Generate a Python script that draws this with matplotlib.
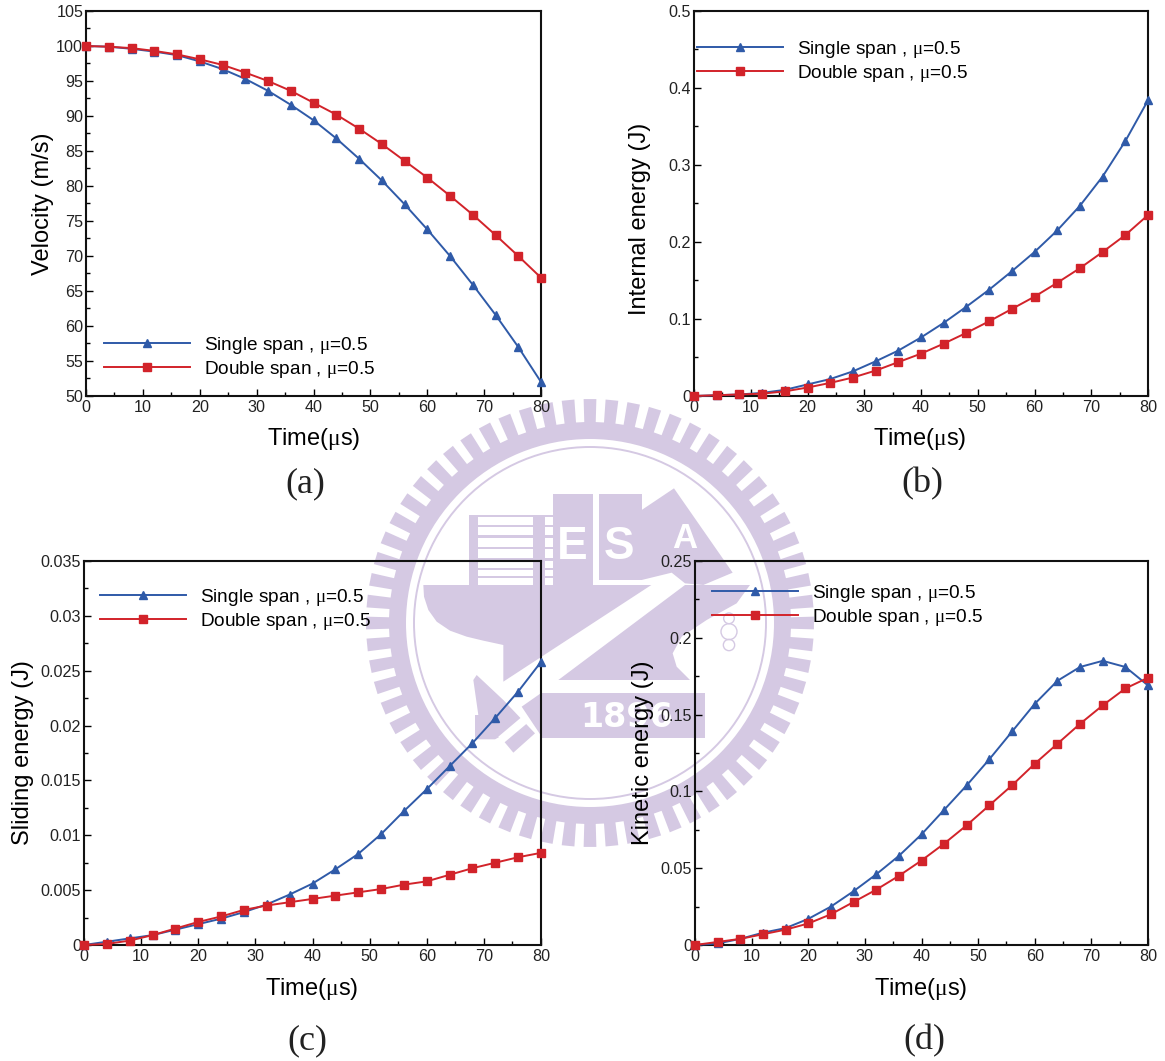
import numpy as np
from matplotlib import pyplot as plt
from matplotlib.patches import Circle, Polygon, Rectangle, Wedge

plt.rcParams['font.family'] = ['Liberation Sans', 'DejaVu Sans']
plt.rcParams['mathtext.fontset'] = 'custom'
plt.rcParams['mathtext.rm'] = 'Liberation Serif'
plt.rcParams['mathtext.it'] = 'Liberation Serif'
plt.rcParams['xtick.direction'] = plt.rcParams['ytick.direction'] = "in"

W, H = 1165, 1061
BLUE = "#2F5AA8"
RED = "#D2232A"
MARK = "#D5C9E3"

time_us = [0, 4, 8, 12, 16, 20, 24, 28, 32, 36, 40, 44, 48, 52, 56, 60, 64, 68, 72, 76, 80]

velocity_single = [100, 99.9, 99.6, 99.2, 98.7, 97.8, 96.7, 95.3, 93.6, 91.6, 89.4,
                   86.8, 83.9, 80.8, 77.4, 73.8, 70, 65.9, 61.6, 57, 52]
velocity_double = [100, 99.9, 99.7, 99.3, 98.8, 98.1, 97.3, 96.2, 95, 93.6, 91.9,
                   90.2, 88.2, 86, 83.6, 81.2, 78.6, 75.9, 73, 70, 66.9]

internal_single = [0, .001, .002, .004, .008, .015, .022, .032, .045, .059, .076,
                   .095, .116, .138, .162, .187, .215, .247, .285, .331, .384]
internal_double = [0, .001, .002, .003, .006, .011, .017, .024, .033, .044, .055,
                   .068, .082, .097, .113, .129, .147, .166, .187, .209, .235]

sliding_single = [0, .0003, .0006, .0009, .0014, .0019, .0024, .003, .0037, .0046, .0056,
                  .0069, .0083, .0101, .0122, .0142, .0163, .0184, .0207, .0231, .0258]
sliding_double = [0, .0001, .0004, .0009, .0015, .0021, .0026, .0032, .0036, .0039, .0042,
                  .0045, .0048, .0051, .0055, .0058, .0064, .007, .0075, .008, .0084]

kinetic_single = [0, .001, .004, .008, .011, .017, .025, .035, .046, .058, .072,
                  .088, .104, .121, .139, .157, .172, .181, .185, .181, .169]
kinetic_double = [0, .002, .004, .007, .01, .014, .02, .028, .036, .045, .055,
                  .066, .078, .091, .104, .118, .131, .144, .156, .167, .174]

label_single = r"Single span , $\mu$=0.5"
label_double = r"Double span , $\mu$=0.5"
xlabel = r"Time($\mu$s)"


def fx(px):
    return px / W


def fy(px):
    return 1 - px / H


def draw_watermark(fig):
    # seal behind the charts, positions are in reference pixels
    ax = fig.add_axes([0, 0, 1, 1], zorder=0)
    ax.set_xlim(0, W)
    ax.set_ylim(H, 0)
    ax.axis("off")

    def z(points):
        return [(360 + p[0] / 3, 390 + p[1] / 3) for p in points]

    def box(x0, y0, x1, y1, color=MARK):
        ax.add_patch(Rectangle((360 + x0 / 3, 390 + y0 / 3), (x1 - x0) / 3, (y1 - y0) / 3,
                               fc=color, ec="none"))

    cx, cy = 590, 623
    ax.add_patch(Wedge((cx, cy), 201, 0, 360, width=17, fc=MARK, ec="none"))
    ax.add_patch(Circle((cx, cy), 176, fc="none", ec=MARK, lw=1.4))
    nteeth = 64
    for i in range(nteeth):
        a = 2 * np.pi * i / nteeth
        da = 0.58 * np.pi / nteeth
        ax.add_patch(Polygon([(cx + r * np.sin(a + s * da), cy - r * np.cos(a + s * da))
                              for r, s in [(199, -1), (224, -1), (224, 1), (199, 1)]],
                             fc=MARK, ec="none"))

    # building with the letter blocks
    box(328, 375, 580, 590)
    for y0, y1 in [(380, 405), (412, 435), (443, 470), (478, 505), (512, 535), (541, 558), (565, 585)]:
        box(355, y0, 518, y1, "white")
        box(556, y0, 578, y1, "white")
    box(578, 312, 698, 590)
    box(718, 312, 845, 570)
    ax.add_patch(Polygon(z([(845, 360), (942, 295), (1118, 548), (1030, 585), (975, 580), (935, 548), (845, 570)]),
                         fc=MARK, ec="none"))

    # hull and the diagonal
    ax.add_patch(Polygon(z([(190, 585), (874, 585), (430, 875), (430, 765), (370, 752), (320, 740),
                            (270, 722), (230, 695), (205, 660), (192, 620)]), fc=MARK, ec="none"))
    ax.add_patch(Polygon(z([(595, 870), (975, 585), (1170, 585), (1130, 640), (1040, 690), (965, 740),
                            (938, 790), (950, 830), (990, 870)]), fc=MARK, ec="none"))
    ax.add_patch(Polygon(z([(340, 870), (350, 855), (430, 930), (525, 1030), (460, 1088), (420, 1040),
                            (405, 1048), (345, 1048), (345, 975), (355, 975)]), fc=MARK, ec="none"))
    ax.add_patch(Polygon(z([(415, 1040), (510, 960), (525, 980), (430, 1060)]), fc="white", ec="none"))
    box(545, 908, 1035, 1045)
    ax.add_patch(Polygon(z([(485, 950), (545, 908), (545, 1040)]), fc=MARK, ec="none"))

    for x, y, s, size in [(638, 472, "E", 33), (778, 472, "S", 33), (975, 447, "A", 25)]:
        ax.text(360 + x / 3, 390 + y / 3, s, color="white", fontsize=size, fontweight="bold",
                ha="center", va="center")
    ax.text(360 + 800 / 3, 390 + 982 / 3, "1896", color="white", fontsize=24, fontweight="bold",
            family="DejaVu Sans", ha="center", va="center")
    for y, r in [(685, 16), (725, 24), (765, 17)]:
        ax.add_patch(Circle((360 + 1107 / 3, 390 + y / 3), r / 3, fc="none", ec=MARK, lw=1.0))


def plot_panel(fig, box, single, double, ylim, major, minor, ylabel, ylabel_pos, xlabel_pos, legend_pos, tag, tag_pos):
    x0, y0, x1, y1 = box
    ax = fig.add_axes([fx(x0), fy(y1), (x1 - x0) / W, (y1 - y0) / H], zorder=1)
    ax.patch.set_alpha(0)

    ax.plot(time_us, single, "-^", color=BLUE, lw=1.4, ms=6, mec=BLUE, clip_on=False, zorder=3, label=label_single)
    ax.plot(time_us, double, "-s", color=RED, lw=1.4, ms=6, mec=RED, clip_on=False, zorder=4, label=label_double)

    ax.set_xlim(0, 80)
    ax.set_ylim(*ylim)
    ax.set_xticks(np.arange(0, 81, 10))
    ax.set_xticks(np.arange(5, 80, 10), minor=True)
    ax.set_yticks(np.arange(ylim[0], ylim[1] + major / 2, major))
    ax.set_yticks(np.arange(ylim[0] + minor, ylim[1], major), minor=True)
    ax.yaxis.set_major_formatter(lambda v, pos: "%g" % round(v, 4))
    ax.tick_params(which="major", length=5, width=1.0, labelsize=11.6, pad=2, labelcolor="#222222")
    ax.tick_params(which="minor", length=3, width=1.0)
    ax.tick_params(axis="x", which="major", pad=3)
    for spine in ax.spines.values():
        spine.set_linewidth(1.5)
        spine.set_color("#111111")

    ax.set_xlabel(xlabel, fontsize=17, va="center")
    ax.xaxis.set_label_coords(fx(xlabel_pos[0]), fy(xlabel_pos[1]), transform=fig.transFigure)
    ax.set_ylabel(ylabel, fontsize=17, va="center")
    ax.yaxis.set_label_coords(fx(ylabel_pos[0]), fy(ylabel_pos[1]), transform=fig.transFigure)

    ax.legend(loc="upper left", bbox_to_anchor=(fx(legend_pos[0]), fy(legend_pos[1])),
              bbox_transform=fig.transFigure, frameon=False, fontsize=13.7, borderpad=0,
              borderaxespad=0, handlelength=4.52, handletextpad=0.75, labelspacing=0.16, numpoints=1)

    fig.text(fx(tag_pos[0]), fy(tag_pos[1]), tag, fontsize=26, family="Liberation Serif",
             ha="center", va="center", color="#222222")
    return ax


fig = plt.figure(figsize=(W / 100, H / 100), dpi=100, facecolor="white")
draw_watermark(fig)

plot_panel(fig, (86, 11, 541, 396), velocity_single, velocity_double, (50, 105), 5, 2.5,
           "Velocity (m/s)", (43, 204), (314, 439), (104, 335), "(a)", (305, 484))
plot_panel(fig, (694, 11, 1148, 396), internal_single, internal_double, (0, 0.5), 0.1, 0.05,
           "Internal energy (J)", (640, 219), (920, 439), (697, 39), "(b)", (922, 484))
plot_panel(fig, (84, 561, 541, 945), sliding_single, sliding_double, (0, 0.035), 0.005, 0.0025,
           "Sliding energy (J)", (23, 753), (312, 989), (100, 587), "(c)", (307, 1041))
plot_panel(fig, (695, 561, 1148, 945), kinetic_single, kinetic_double, (0, 0.25), 0.05, 0.025,
           "Kinetic energy (J)", (643, 753), (921, 989), (712, 583), "(d)", (924, 1041))

fig.savefig("out.png", dpi=100, facecolor="white")
